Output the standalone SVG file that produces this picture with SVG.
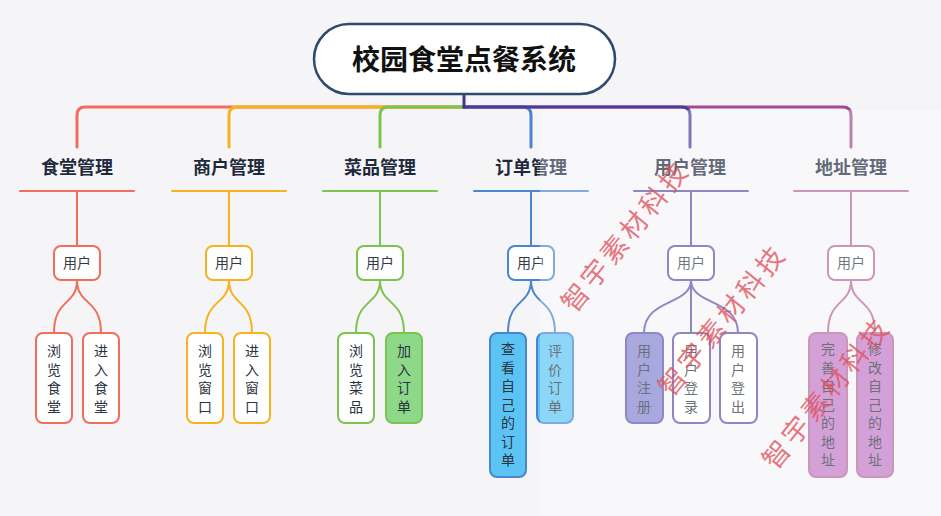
<svg xmlns="http://www.w3.org/2000/svg" width="941" height="516" viewBox="0 0 941 516">
<style>
text{font-family:"Noto Sans CJK SC","Noto Sans",sans-serif}
.title{font-size:28px;font-weight:bold;fill:#111;text-anchor:middle}
.blabel{font-size:18px;font-weight:bold;fill:#1e2a3c;text-anchor:middle}
.utext{font-size:14px;fill:#333a45;text-anchor:middle}
.ltext{font-size:14px;fill:#2b3340;text-anchor:middle}
.ubox{fill:#fff;stroke-width:2}
.leaf{stroke-width:2}
.ln{fill:none;stroke-width:2;stroke-linecap:round}
.top{fill:none;stroke-width:3;stroke-linecap:round}
.wm{font-size:27px;fill:#e0525e;fill-opacity:0.8;text-anchor:middle;letter-spacing:4px}
</style>
<rect x="0" y="0" width="941" height="516" fill="#f5f5f8"/>
<g id="connectors">
  <path class="top" d="M464,107 L85,107 Q77,107 77,115 L77,147" stroke="#f26e5c"/>
  <path class="top" d="M464,107 L237,107 Q229,107 229,115 L229,147" stroke="#f7b21f"/>
  <path class="top" d="M464,107 L388,107 Q380,107 380,115 L380,147" stroke="#7cc350"/>
  <path class="top" d="M464,107 L523,107 Q531,107 531,115 L531,147" stroke="#4a86d0"/>
  <path class="top" d="M464,107 L843,107 Q851,107 851,115 L851,147" stroke="#a44b8f"/>
  <path class="top" d="M464,107 L682,107 Q690,107 690,115 L690,147" stroke="#4b3c9c"/>
  <path class="top" d="M464,94 L464,107" stroke="#3c3a8c"/>
  <path class="ln" stroke="#f26e5c" d="M20,191 L134,191 M77,191 L77,246 M77,280 C77,306 54,298 54,333 M77,280 C77,306 101,298 101,333"/>
  <path class="ln" stroke="#f7b21f" d="M172,191 L286,191 M229,191 L229,246 M229,280 C229,306 205,298 205,333 M229,280 C229,306 252,298 252,333"/>
  <path class="ln" stroke="#7cc350" d="M323,191 L437,191 M380,191 L380,246 M380,280 C380,306 356,298 356,333 M380,280 C380,306 404,298 404,333"/>
  <path class="ln" stroke="#4a86d0" d="M474,191 L588,191 M531,191 L531,246 M531,280 C531,306 508,298 508,333 M531,280 C531,306 555,298 555,333"/>
  <path class="ln" stroke="#5e54ab" d="M634,191 L748,191 M691,191 L691,246 M691,280 C691,306 644,298 644,333 M691,280 L691,333 M691,280 C691,306 738,298 738,333"/>
  <path class="ln" stroke="#b36a9c" d="M794,191 L908,191 M851,191 L851,246 M851,280 C851,306 828,298 828,333 M851,280 C851,306 875,298 875,333"/>
</g>
<g id="root">
  <rect x="314" y="24" width="301" height="70" rx="35" fill="#fff" stroke="#2f4a6e" stroke-width="2.5"/>
  <text class="title" x="464" y="70">校园食堂点餐系统</text>
</g>
<g id="b1"><text class="blabel" x="77" y="174">食堂管理</text></g>
<g id="b2"><text class="blabel" x="229" y="174">商户管理</text></g>
<g id="b3"><text class="blabel" x="380" y="174">菜品管理</text></g>
<g id="b4"><text class="blabel" x="531" y="174">订单管理</text></g>
<g id="b5"><text class="blabel" x="690" y="174">用户管理</text></g>
<g id="b6"><text class="blabel" x="851" y="174">地址管理</text></g>
<g id="u1"><rect class="ubox" x="54" y="246" width="46" height="34" rx="7" stroke="#f26e5c"/><text class="utext" x="77" y="268">用户</text></g>
<g id="u2"><rect class="ubox" x="206" y="246" width="46" height="34" rx="7" stroke="#f7b21f"/><text class="utext" x="229" y="268">用户</text></g>
<g id="u3"><rect class="ubox" x="357" y="246" width="46" height="34" rx="7" stroke="#7cc350"/><text class="utext" x="380" y="268">用户</text></g>
<g id="u4"><rect class="ubox" x="508" y="246" width="46" height="34" rx="7" stroke="#4a86d0"/><text class="utext" x="531" y="268">用户</text></g>
<g id="u5"><rect class="ubox" x="668" y="246" width="46" height="34" rx="7" stroke="#5e54ab"/><text class="utext" x="691" y="268">用户</text></g>
<g id="u6"><rect class="ubox" x="828" y="246" width="46" height="34" rx="7" stroke="#b36a9c"/><text class="utext" x="851" y="268">用户</text></g>
<g id="l1"><rect class="leaf" x="36" y="333" width="36" height="90" rx="7" fill="#fff" stroke="#f26e5c"/><text class="ltext" x="54" y="356"><tspan x="54">浏</tspan><tspan x="54" dy="18.5">览</tspan><tspan x="54" dy="18.5">食</tspan><tspan x="54" dy="18.5">堂</tspan></text></g>
<g id="l2"><rect class="leaf" x="83" y="333" width="36" height="90" rx="7" fill="#fff" stroke="#f26e5c"/><text class="ltext" x="101" y="356"><tspan x="101">进</tspan><tspan x="101" dy="18.5">入</tspan><tspan x="101" dy="18.5">食</tspan><tspan x="101" dy="18.5">堂</tspan></text></g>
<g id="l3"><rect class="leaf" x="187" y="333" width="36" height="90" rx="7" fill="#fff" stroke="#f7b21f"/><text class="ltext" x="205" y="356"><tspan x="205">浏</tspan><tspan x="205" dy="18.5">览</tspan><tspan x="205" dy="18.5">窗</tspan><tspan x="205" dy="18.5">口</tspan></text></g>
<g id="l4"><rect class="leaf" x="234" y="333" width="36" height="90" rx="7" fill="#fff" stroke="#f7b21f"/><text class="ltext" x="252" y="356"><tspan x="252">进</tspan><tspan x="252" dy="18.5">入</tspan><tspan x="252" dy="18.5">窗</tspan><tspan x="252" dy="18.5">口</tspan></text></g>
<g id="l5"><rect class="leaf" x="338" y="333" width="36" height="90" rx="7" fill="#fff" stroke="#7cc350"/><text class="ltext" x="356" y="356"><tspan x="356">浏</tspan><tspan x="356" dy="18.5">览</tspan><tspan x="356" dy="18.5">菜</tspan><tspan x="356" dy="18.5">品</tspan></text></g>
<g id="l6"><rect class="leaf" x="386" y="333" width="36" height="90" rx="7" fill="#8ed88a" stroke="#7cc350"/><text class="ltext" x="404" y="356"><tspan x="404">加</tspan><tspan x="404" dy="18.5">入</tspan><tspan x="404" dy="18.5">订</tspan><tspan x="404" dy="18.5">单</tspan></text></g>
<g id="l7"><rect class="leaf" x="490" y="333" width="36" height="144" rx="7" fill="#5bc4f5" stroke="#4a86d0"/><text class="ltext" x="508" y="354"><tspan x="508">查</tspan><tspan x="508" dy="18.5">看</tspan><tspan x="508" dy="18.5">自</tspan><tspan x="508" dy="18.5">己</tspan><tspan x="508" dy="18.5">的</tspan><tspan x="508" dy="18.5">订</tspan><tspan x="508" dy="18.5">单</tspan></text></g>
<g id="l8"><rect class="leaf" x="537" y="333" width="36" height="90" rx="7" fill="#5bc4f5" stroke="#4a86d0"/><text class="ltext" x="555" y="356"><tspan x="555">评</tspan><tspan x="555" dy="18.5">价</tspan><tspan x="555" dy="18.5">订</tspan><tspan x="555" dy="18.5">单</tspan></text></g>
<g id="l9"><rect class="leaf" x="626" y="333" width="37" height="90" rx="7" fill="#8283ce" stroke="#5e54ab"/><text class="ltext" x="644" y="356"><tspan x="644">用</tspan><tspan x="644" dy="18.5">户</tspan><tspan x="644" dy="18.5">注</tspan><tspan x="644" dy="18.5">册</tspan></text></g>
<g id="l10"><rect class="leaf" x="673" y="333" width="37" height="90" rx="7" fill="#fff" stroke="#5e54ab"/><text class="ltext" x="691" y="356"><tspan x="691">用</tspan><tspan x="691" dy="18.5">户</tspan><tspan x="691" dy="18.5">登</tspan><tspan x="691" dy="18.5">录</tspan></text></g>
<g id="l11"><rect class="leaf" x="720" y="333" width="37" height="90" rx="7" fill="#fff" stroke="#5e54ab"/><text class="ltext" x="738" y="356"><tspan x="738">用</tspan><tspan x="738" dy="18.5">户</tspan><tspan x="738" dy="18.5">登</tspan><tspan x="738" dy="18.5">出</tspan></text></g>
<g id="l12"><rect class="leaf" x="809" y="333" width="38" height="144" rx="7" fill="#c278c8" stroke="#b36a9c"/><text class="ltext" x="828" y="354"><tspan x="828">完</tspan><tspan x="828" dy="18.5">善</tspan><tspan x="828" dy="18.5">自</tspan><tspan x="828" dy="18.5">己</tspan><tspan x="828" dy="18.5">的</tspan><tspan x="828" dy="18.5">地</tspan><tspan x="828" dy="18.5">址</tspan></text></g>
<g id="l13"><rect class="leaf" x="857" y="333" width="36" height="144" rx="7" fill="#c278c8" stroke="#b36a9c"/><text class="ltext" x="875" y="354"><tspan x="875">修</tspan><tspan x="875" dy="18.5">改</tspan><tspan x="875" dy="18.5">自</tspan><tspan x="875" dy="18.5">己</tspan><tspan x="875" dy="18.5">的</tspan><tspan x="875" dy="18.5">地</tspan><tspan x="875" dy="18.5">址</tspan></text></g>
<rect id="fade" x="540" y="110" width="401" height="406" fill="#fff" fill-opacity="0.3"/>
<g id="watermark">
  <text class="wm" transform="translate(633,242) rotate(-51)">智宇素材科技</text>
  <text class="wm" transform="translate(730,326) rotate(-51)">智宇素材科技</text>
  <text class="wm" transform="translate(834,399) rotate(-51)">智宇素材科技</text>
</g>
</svg>
